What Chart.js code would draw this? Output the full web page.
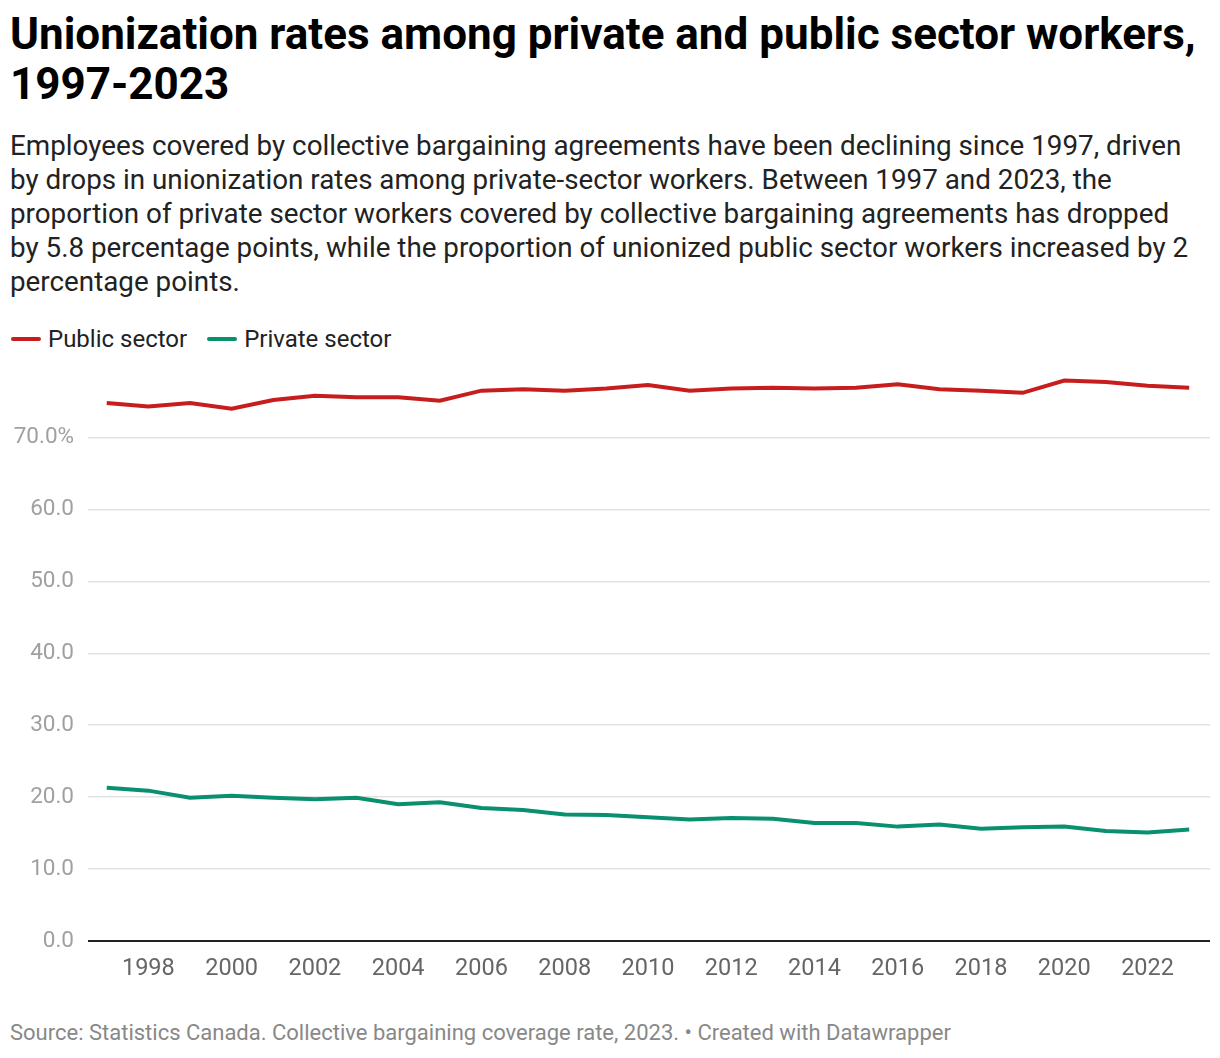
<!DOCTYPE html>
<html>
<head>
<meta charset="utf-8">
<script src="https://cdn.jsdelivr.net/npm/chart.js@4"></script>
<style>
  body { margin: 0; background: #fff; font-family: Roboto, sans-serif; width: 1220px; height: 1058px; position: relative; overflow: hidden; }
  h1 { position: absolute; left: 10px; top: 9px; margin: 0; font-size: 44px; line-height: 50px; font-weight: 700; color: #000; width: 1205px; }
  .sub { position: absolute; left: 10px; top: 129px; margin: 0; font-size: 27.8px; line-height: 34px; color: #222; width: 1190px; }
  .legend { position: absolute; left: 11px; top: 325px; font-size: 24px; color: #222; display: flex; }
  .legend span { display: inline-flex; align-items: center; margin-right: 20px; }
  .legend i { display: inline-block; width: 30px; height: 4px; border-radius: 2px; margin-right: 7px; }
  .chart { position: absolute; left: 0; top: 338px; width: 1220px; height: 654px; }
  .src { position: absolute; left: 10px; top: 1020px; font-size: 22px; color: #888; }
</style>
</head>
<body>
<h1>Unionization rates among private and public sector workers, 1997-2023</h1>
<p class="sub">Employees covered by collective bargaining agreements have been declining since 1997, driven by drops in unionization rates among private-sector workers. Between 1997 and 2023, the proportion of private sector workers covered by collective bargaining agreements has dropped by 5.8 percentage points, while the proportion of unionized public sector workers increased by 2 percentage points.</p>
<div class="legend">
  <span><i style="background:#c71e1d"></i>Public sector</span>
  <span><i style="background:#09906f"></i>Private sector</span>
</div>
<div class="chart"><canvas id="c"></canvas></div>
<div class="src">Source: Statistics Canada. Collective bargaining coverage rate, 2023. • Created with Datawrapper</div>
<script>
// === data ===
const years = [1997, 1998, 1999, 2000, 2001, 2002, 2003, 2004, 2005, 2006, 2007, 2008, 2009, 2010,
  2011, 2012, 2013, 2014, 2015, 2016, 2017, 2018, 2019, 2020, 2021, 2022, 2023];
const publicSector = [74.8, 74.3, 74.8, 74.0, 75.2, 75.8, 75.6, 75.6, 75.1, 76.5, 76.7, 76.5, 76.8, 77.3,
  76.5, 76.8, 76.9, 76.8, 76.9, 77.4, 76.7, 76.5, 76.2, 77.9, 77.7, 77.2, 76.9];
const privateSector = [21.3, 20.9, 19.9, 20.2, 19.9, 19.7, 19.9, 19.0, 19.3, 18.5, 18.2, 17.6, 17.5, 17.2,
  16.9, 17.1, 17.0, 16.4, 16.4, 15.9, 16.2, 15.6, 15.8, 15.9, 15.3, 15.1, 15.5];
const xTicks = [1998, 2000, 2002, 2004, 2006, 2008, 2010, 2012, 2014, 2016, 2018, 2020, 2022];
const yTicks = [0, 10, 20, 30, 40, 50, 60, 70];

function points(vals) {
  return years.map((y, i) => ({ x: y, y: vals[i] }));
}

const ctx = document.getElementById("c").getContext("2d");
new Chart(ctx, {
  type: "line",
  data: {
    datasets: [
      { label: "Public sector", data: points(publicSector), borderColor: "#c71e1d", borderWidth: 4, pointRadius: 0, tension: 0 },
      { label: "Private sector", data: points(privateSector), borderColor: "#09906f", borderWidth: 4, pointRadius: 0, tension: 0 }
    ]
  },
  options: {
    responsive: true,
    maintainAspectRatio: false,
    animation: false,
    layout: { padding: { left: 0, right: 10, top: 9, bottom: 0 } },
    plugins: { legend: { display: false }, tooltip: { enabled: false } },
    scales: {
      x: {
        type: "linear",
        min: 1996.55,
        max: 2023.5,
        afterBuildTicks: (s) => { s.ticks = xTicks.map(v => ({ value: v })); },
        afterFit: (s) => { s.height = 51; },
        grid: { display: false, drawTicks: false },
        border: { display: false },
        ticks: {
          padding: 14,
          maxRotation: 0,
          autoSkip: false,
          color: "#666",
          font: { family: "Roboto", size: 23.5 },
          callback: (v) => String(v)
        }
      },
      y: {
        min: 0,
        max: 80,
        afterBuildTicks: (s) => { s.ticks = yTicks.map(v => ({ value: v })); },
        afterFit: (s) => { s.width = 88; },
        grid: {
          drawTicks: false,
          color: (c) => c.tick && c.tick.value === 0 ? "#222" : "#e2e2e2",
          lineWidth: (c) => c.tick && c.tick.value === 0 ? 2 : 1.5
        },
        border: { display: false },
        ticks: {
          padding: 14,
          color: "#a0a0a0",
          font: { family: "Roboto", size: 22.5 },
          callback: (v) => v === 70 ? "70.0%" : v.toFixed(1)
        }
      }
    }
  }
});
</script>
</body>
</html>
